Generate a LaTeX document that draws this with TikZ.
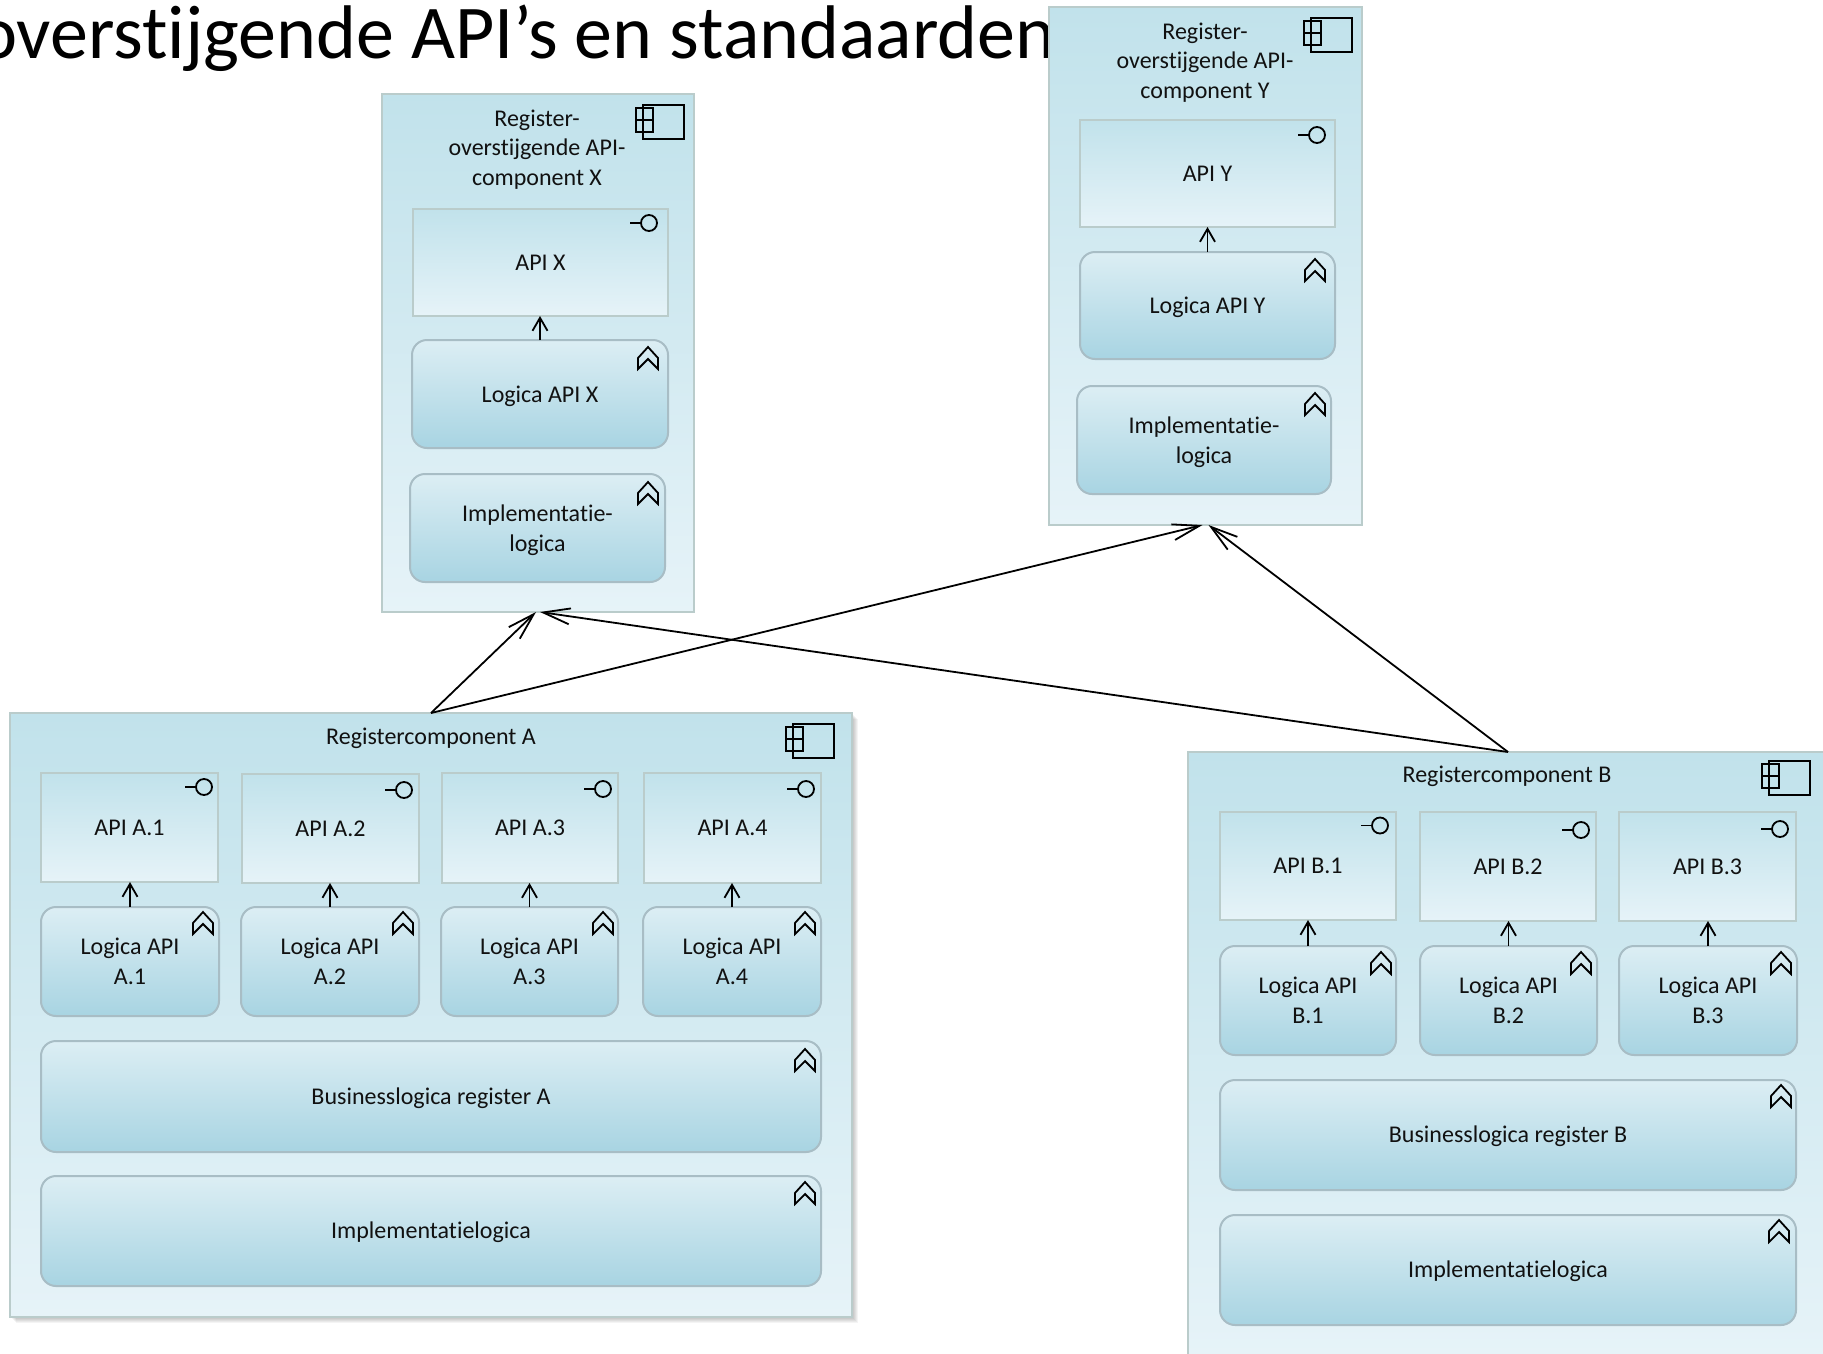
\documentclass[tikz,border=0pt]{standalone}
\usepackage{fontspec}
\setmainfont{Carlito}[Ligatures=NoCommon]
\usetikzlibrary{arrows.meta}
\definecolor{compTop}{HTML}{C1E2EB}
\definecolor{compBot}{HTML}{E6F3F8}
\definecolor{fnTop}{HTML}{DCEEF4}
\definecolor{fnMid}{HTML}{CDE7EE}
\definecolor{fnBot}{HTML}{A8D4E2}
\definecolor{edgeA}{HTML}{BACCCB}
\definecolor{edgeB}{HTML}{A8BDC5}
\definecolor{ink}{HTML}{111111}
\tikzset{
  every node/.style={inner sep=0pt,outer sep=0pt,text=ink,font=\fontsize{24}{29.5}\selectfont,align=center},
  compbox/.style={draw=edgeA,line width=2pt,top color=compTop,bottom color=compBot},
  apibox/.style={draw=edgeA,line width=2pt,top color=compTop,bottom color=compBot},
  fnbox/.style={draw=edgeB,line width=2pt,rounded corners=15pt,top color=fnTop,middle color=fnMid,bottom color=fnBot},
  usebar/.style={draw=black,line width=1.8pt,-{Straight Barb[length=13pt,width=15pt,line width=1.8pt]}},
  realiz/.style={draw=black,line width=1.8pt,-{Straight Barb[length=27pt,width=16pt,line width=1.8pt]}},
  iconline/.style={draw=black,line width=1.8pt,fill=none}
}
% style, name, x0, y0, x1, y1, text drop, text
\newcommand\boxat[8]{%
  \pgfmathsetmacro\bxw{#5-#3}\pgfmathsetmacro\bxh{#6-#4}%
  \pgfmathsetmacro\bxx{(#3+#5)/2}\pgfmathsetmacro\bxy{(#4+#6)/2}%
  \node[#1,minimum width=\bxw pt,minimum height=\bxh pt] (#2) at (\bxx,\bxy) {};
  \node[yshift=-#7pt] (#2t) at (#2) {#8};}
\newcommand\compicon[2]{%
  \begin{scope}[shift={(#1,#2)}]
    \draw[iconline] (-41,0) rectangle (0,34);
    \draw[iconline] (-48,3) rectangle (-31,15);
    \draw[iconline] (-48,15) rectangle (-31,27);
  \end{scope}}
\newcommand\ifaceicon[2]{%
  \begin{scope}[shift={(#1,#2)}]
    \draw[iconline] (0,0) circle[radius=8];
    \draw[iconline] (-8,0) -- (-19,0);
  \end{scope}}
\newcommand\fnicon[2]{%
  \begin{scope}[shift={(#1,#2)}]
    \draw[iconline,line join=miter] (0,0) -- (10,11) -- (10,22) -- (0,12) -- (-10,22) -- (-10,11) -- cycle;
  \end{scope}}
\begin{document}
\begin{tikzpicture}[x=1pt,y=-1pt]
\useasboundingbox (0,0) rectangle (1823,1353);
\clip (0,0) rectangle (1823,1353);
\fill[white] (0,0) rectangle (1823,1353);

\node[anchor=base west,font=\fontsize{76}{80}\selectfont,text=black] (title) at (-23,58) {overstijgende API’s en standaarden};

% component X
\boxat{compbox}{compX}{382}{94}{694}{612}{0}{}
\node (compXt2) at (537,149.5) {Register-\\overstijgende API-\\component X};
\boxat{apibox}{apiX}{413}{209}{668}{316}{0}{API X}
\boxat{fnbox}{logX}{412}{340}{668}{448}{2}{Logica API X}
\boxat{fnbox}{implX}{410}{474}{665}{582}{2}{Implementatie-\\logica}
\compicon{684}{105}\ifaceicon{649}{223}\fnicon{648}{347}\fnicon{648}{482}

% component Y
\boxat{compbox}{compY}{1049}{7}{1362}{525}{0}{}
\node (compYt2) at (1205,62.5) {Register-\\overstijgende API-\\component Y};
\boxat{apibox}{apiY}{1080}{120}{1335}{227}{0}{API Y}
\boxat{fnbox}{logY}{1080}{252}{1335}{359}{2}{Logica API Y}
\boxat{fnbox}{implY}{1077}{386}{1331}{494}{2}{Implementatie-\\logica}
\compicon{1352}{18}\ifaceicon{1317}{135}\fnicon{1315}{259}\fnicon{1315}{393}

% component A
\foreach \s in {1,2,3,4,5,6}{
  \fill[black,opacity=.045] (10+\s,713+\s) rectangle (852+\s,1317+\s);
}
\boxat{compbox}{compA}{10}{713}{852}{1317}{0}{}
\node (compAt2) at (431,738) {Registercomponent A};
\boxat{apibox}{apiA1}{41}{773}{218}{882}{0}{API A.1}
\boxat{apibox}{apiA2}{242}{774}{419}{883}{0}{API A.2}
\boxat{apibox}{apiA3}{442}{773}{618}{883}{0}{API A.3}
\boxat{apibox}{apiA4}{644}{773}{821}{883}{0}{API A.4}
\boxat{fnbox}{logA1}{41}{907}{219}{1016}{0}{Logica API\\A.1}
\boxat{fnbox}{logA2}{241}{907}{419}{1016}{0}{Logica API\\A.2}
\boxat{fnbox}{logA3}{441}{907}{618}{1016}{0}{Logica API\\A.3}
\boxat{fnbox}{logA4}{643}{907}{821}{1016}{0}{Logica API\\A.4}
\boxat{fnbox}{busA}{41}{1041}{821}{1152}{1.5}{Businesslogica register A}
\boxat{fnbox}{implA}{41}{1176}{821}{1286}{1.5}{Implementatielogica}
\compicon{834}{724}
\ifaceicon{204}{787}\ifaceicon{404}{790}\ifaceicon{603}{789}\ifaceicon{806}{789}
\fnicon{203}{912}\fnicon{403}{912}\fnicon{603}{912}\fnicon{805}{912}\fnicon{805}{1049}\fnicon{805}{1182}

% component B
\boxat{compbox}{compB}{1188}{752}{1828}{1356}{0}{}
\node (compBt2) at (1507,776) {Registercomponent B};
\boxat{apibox}{apiB1}{1220}{812}{1396}{920}{0}{API B.1}
\boxat{apibox}{apiB2}{1420}{812}{1596}{921}{0}{API B.2}
\boxat{apibox}{apiB3}{1619}{812}{1796}{921}{0}{API B.3}
\boxat{fnbox}{logB1}{1220}{946}{1396}{1055}{0}{Logica API\\B.1}
\boxat{fnbox}{logB2}{1420}{946}{1597}{1055}{0}{Logica API\\B.2}
\boxat{fnbox}{logB3}{1619}{946}{1797}{1055}{0}{Logica API\\B.3}
\boxat{fnbox}{busB}{1220}{1080}{1796}{1190}{1.5}{Businesslogica register B}
\boxat{fnbox}{implB}{1220}{1215}{1796}{1325}{1.5}{Implementatielogica}
\compicon{1810}{761}
\ifaceicon{1380}{825.5}\ifaceicon{1581}{830}\ifaceicon{1780}{829}
\fnicon{1381}{952}\fnicon{1581}{952}\fnicon{1781}{952}\fnicon{1781}{1085}\fnicon{1779}{1220}

% inner connectors
\foreach \n in {X,Y,A1,A2,A3,A4,B1,B2,B3}{
  \draw[usebar] (log\n.north) -- (log\n.north |- api\n.south);
}
% realization connectors
\draw[realiz] (compA.north) -- ([xshift=-2pt]compX.south);
\draw[realiz] (compA.north) -- ([xshift=-3pt]compY.south);
\draw[realiz] (compB.north) -- ([xshift=2pt]compX.south);
\draw[realiz] (compB.north) -- ([xshift=3pt]compY.south);
\end{tikzpicture}
\end{document}
